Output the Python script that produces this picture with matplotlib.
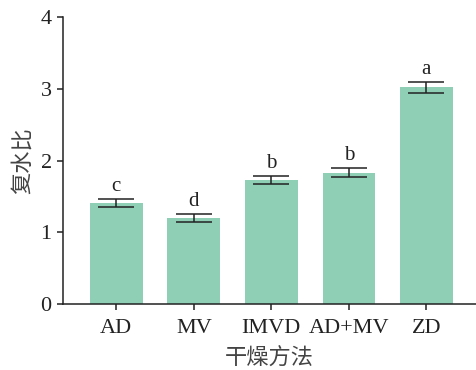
import numpy as np
import matplotlib.pyplot as plt

plt.rcParams['font.family'] = ['Liberation Serif', 'Noto Sans CJK SC']

methods = ['AD', 'MV', 'IMVD', 'AD+MV', 'ZD']
ratio = [1.41, 1.20, 1.73, 1.83, 3.02]
err = [0.05, 0.055, 0.06, 0.065, 0.075]
letters = ['c', 'd', 'b', 'b', 'a']

fig = plt.figure(figsize=(4.76, 3.7), dpi=100)
ax = fig.add_axes([0.132, 0.178, 0.868, 0.776])

x = np.arange(len(methods))
ax.bar(x, ratio, width=0.68, color='#8ECFB6', zorder=1)
ax.errorbar(x, ratio, yerr=err, fmt='none', ecolor='#222222',
            elinewidth=1.1, capsize=13, capthick=1.1, zorder=2)
for xi, v, e, s in zip(x, ratio, err, letters):
    ax.text(xi, v + e + 0.04, s, ha='center', va='bottom', fontsize=15, color='#222222')

ax.set_xlim(-0.69, 4.64)
ax.set_ylim(0, 4)
ax.set_yticks([0, 1, 2, 3, 4])
ax.set_xticks(x)
ax.set_xticklabels(methods)
ax.spines['top'].set_visible(False)
ax.spines['right'].set_visible(False)
for sp in ['left', 'bottom']:
    ax.spines[sp].set_linewidth(1.1)
    ax.spines[sp].set_color('#222222')
ax.tick_params(axis='both', labelsize=16, length=4, width=1.1, color='#222222',
               labelcolor='#222222', pad=4)
ax.tick_params(axis='x', pad=7)
ax.set_xlabel('干燥方法', fontsize=16, color='#444444', labelpad=7)
ax.set_ylabel('复水比', fontsize=16, color='#444444', labelpad=5)

fig.savefig('out.png', dpi=100)
